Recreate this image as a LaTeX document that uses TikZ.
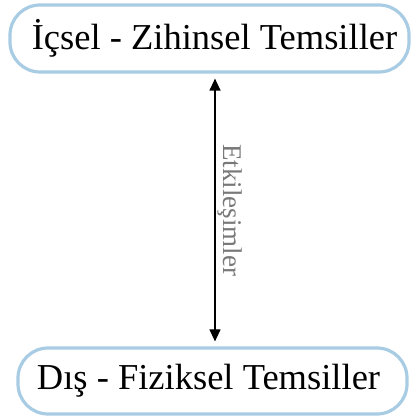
\documentclass[tikz,border=0pt]{standalone}
\usepackage{fontspec}
\setmainfont{Liberation Serif}
\usetikzlibrary{arrows.meta}
\definecolor{boxblue}{RGB}{168,204,228}
\definecolor{labelgray}{RGB}{120,120,120}
\tikzset{
  pill/.style={draw=boxblue, line width=3.2pt, rounded corners=30pt,
    fill=white, inner sep=0pt, font=\fontsize{36.5}{42}\selectfont, text=black},
  link/.style={{Triangle[width=11pt,length=12pt]}-{Triangle[width=11pt,length=12pt]},
    line width=1.2pt, black},
  linklabel/.style={rotate=-90, anchor=south, inner sep=2pt,
    font=\fontsize{27}{31}\selectfont, text=labelgray}
}
\begin{document}
\begin{tikzpicture}[x=1pt,y=1pt]
  \useasboundingbox (0,0) rectangle (414,420);
  \node[pill, minimum width=399pt, minimum height=67pt] (inner) at (209.5,381.5)
    {\kern10pt İçsel - Zihinsel Temsiller};
  \node[pill, minimum width=389pt, minimum height=66pt] (outer) at (212.5,39)
    {Dış - Fiziksel Temsiller\kern8pt};
  \draw[link] ([xshift=5.5pt,yshift=-5pt]inner.south) -- ([xshift=2.5pt,yshift=5pt]outer.north)
    node[midway, linklabel] (lbl) {Etkileşimler};
\end{tikzpicture}
\end{document}
